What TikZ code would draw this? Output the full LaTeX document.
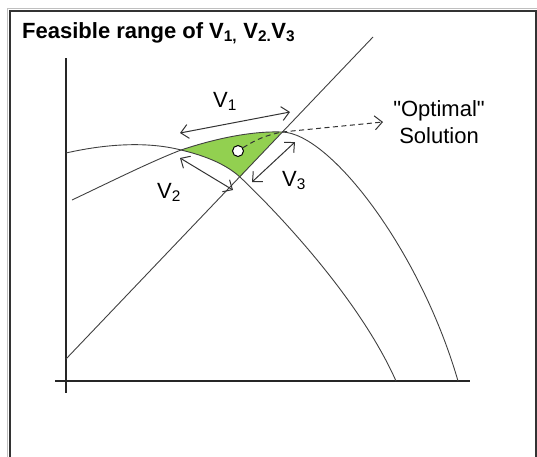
\documentclass[tikz,border=0pt]{standalone}
\usepackage{fontspec}
\setmainfont{Liberation Sans}
\usetikzlibrary{arrows.meta}
\tikzset{
  curve/.style={draw=black!75, line width=0.9pt},
  axis/.style={draw=black!85, line width=1.3pt},
  dimarrow/.style={draw=black!80, line width=1pt, {Straight Barb[length=7.5pt,width=14pt]}-{Straight Barb[length=7.5pt,width=14pt]}},
  lbl/.style={font=\fontsize{22}{27}\selectfont, inner sep=0pt},
}
\definecolor{feasgreen}{RGB}{146,208,80}
\begin{document}
\begin{tikzpicture}[x=1pt, y=-1pt]
\useasboundingbox (0,0) rectangle (537,456);
\draw[black!25, line width=1pt] (7,470) -- (7,8) -- (540,8);
\draw[black!80, line width=1.3pt] (10,470) -- (10,11) -- (536,11) -- (536,470);
\node[anchor=base west, inner sep=0pt, font=\bfseries\fontsize{22}{25}\selectfont] (title) at (22,38) {Feasible range of V\textsubscript{1,} V\textsubscript{2.}V\textsubscript{3}};

\coordinate (ytop) at (66,58);
\coordinate (ybot) at (66,393);
\coordinate (xleft) at (55,381);
\coordinate (xright) at (470,381);
\coordinate (vL) at (181,150);
\coordinate (vR) at (282,132);
\coordinate (vB) at (240,177);
\coordinate (lstart) at (66,359);
\coordinate (lend) at (373,37);

\fill[feasgreen] (vL) .. controls (220,137) and (255,131) .. (vR) -- (vB) .. controls (231,169) and (215,158) .. (vL) -- cycle;

\draw[axis] (ytop) -- (ybot);
\draw[axis] (xleft) -- (xright);
\draw[curve] (66,153) .. controls (110,143) and (150,142) .. (vL) .. controls (215,158) and (231,169) .. (vB) .. controls (280,215) and (360,300) .. (396,381);
\draw[curve] (72,200) .. controls (110,182) and (150,162) .. (vL) .. controls (220,137) and (255,131) .. (vR) .. controls (330,133) and (420,250) .. (458,381);
\draw[curve] (lstart) -- (lend);

\node[circle, draw, fill=white, line width=1pt, inner sep=0pt, minimum size=11pt] (opt) at (238,151) {};
\coordinate (soltip) at (383,122);
\draw[black!80, line width=1pt, dashed, dash pattern=on 5pt off 3.5pt, -{Straight Barb[length=7.5pt,width=14pt]}] (opt) to[bend left=10] (vR) -- (soltip);
\node[lbl, align=center] (sol) at (439,122) {\textquotedbl Optimal\textquotedbl\\Solution};

\coordinate (a1) at (180,133);
\coordinate (b1) at (290,112);
\coordinate (a2) at (180,158);
\coordinate (b2) at (233,190);
\coordinate (a3) at (295,142);
\coordinate (b3) at (252,182);
\draw[dimarrow] (a1) -- (b1);
\draw[dimarrow] (a2) -- (b2);
\draw[dimarrow] (a3) -- (b3);
\node[lbl, anchor=base west] (v1) at (213,107) {V\textsubscript{1}};
\node[lbl, anchor=base west] (v2) at (157,198) {V\textsubscript{2}};
\node[lbl, anchor=base west] (v3) at (282,186) {V\textsubscript{3}};
\end{tikzpicture}
\end{document}
